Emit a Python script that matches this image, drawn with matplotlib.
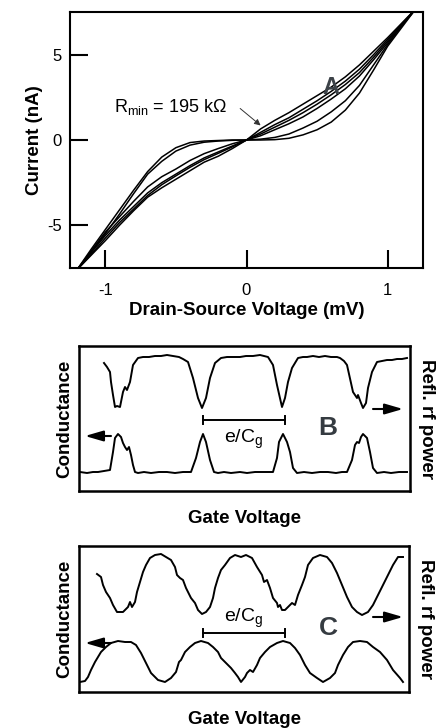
import matplotlib
matplotlib.use("Agg")
import matplotlib.pyplot as plt

plt.rcParams['font.family'] = ['Liberation Sans', 'DejaVu Sans']
plt.rcParams['mathtext.fontset'] = 'custom'
plt.rcParams['mathtext.rm'] = 'Liberation Sans'
plt.rcParams['mathtext.it'] = 'Liberation Sans'
plt.rcParams['axes.unicode_minus'] = False

# Panel A: I-V curves (mV, nA)
voltage = [-1.2, -1.1, -1.0, -0.9, -0.8, -0.7, -0.6, -0.5, -0.4, -0.3, -0.2, -0.1, 0.0,
           0.1, 0.2, 0.3, 0.4, 0.5, 0.6, 0.7, 0.8, 0.9, 1.0, 1.1, 1.2]
iv_1 = [-7.6, -6.75, -5.9, -5.0, -4.15, -3.35, -2.8, -2.3, -1.8, -1.3, -0.95, -0.5, 0.0,
        0.65, 1.15, 1.6, 2.1, 2.6, 3.1, 3.7, 4.4, 5.2, 6.0, 6.85, 7.7]
iv_2 = [-7.6, -6.7, -5.75, -4.85, -4.05, -3.25, -2.62, -2.1, -1.6, -1.15, -0.78, -0.4, 0.0,
        0.45, 0.9, 1.3, 1.8, 2.3, 2.85, 3.45, 4.15, 5.0, 5.9, 6.8, 7.7]
iv_3 = [-7.6, -6.6, -5.6, -4.7, -3.9, -3.1, -2.5, -2.0, -1.5, -1.05, -0.7, -0.35, 0.0,
        0.35, 0.75, 1.15, 1.6, 2.1, 2.65, 3.25, 3.95, 4.85, 5.8, 6.75, 7.7]
iv_4 = [-7.6, -6.5, -5.4, -4.5, -3.6, -2.75, -2.15, -1.7, -1.2, -0.8, -0.5, -0.22, 0.0,
        0.25, 0.6, 0.95, 1.35, 1.85, 2.4, 3.0, 3.75, 4.7, 5.7, 6.7, 7.7]
iv_5 = [-7.6, -6.55, -5.5, -4.35, -3.15, -2.0, -1.25, -0.65, -0.3, -0.13, -0.06, -0.02, 0.0,
        0.05, 0.15, 0.35, 0.7, 1.1, 1.65, 2.3, 3.2, 4.4, 5.6, 6.7, 7.7]
iv_6 = [-7.6, -6.4, -5.25, -4.1, -2.95, -1.85, -1.0, -0.45, -0.15, -0.06, -0.03, 0.0, 0.0,
        0.0, 0.02, 0.1, 0.3, 0.6, 1.05, 1.75, 2.75, 4.1, 5.5, 6.6, 7.7]
iv_curves = [iv_1, iv_2, iv_3, iv_4, iv_5, iv_6]

# Panel B: gate sweep, arbitrary units
b_rf_x = [25, 28, 31, 32, 34, 36, 38, 41, 44, 46, 48, 51, 54, 59, 64, 70, 76, 82, 88, 94,
          100, 104, 109, 114, 119, 123, 127, 131, 136, 142, 148, 154, 161, 167, 174, 181,
          189, 194, 198, 203, 206, 209, 213, 219, 224, 228, 234, 240, 246, 252, 258, 261,
          265, 268, 274, 278, 279, 282, 284, 287, 289, 293, 298, 303, 308, 313, 318, 323, 328]
b_rf_y = [128, 124, 119, 109, 96, 84, 85, 84, 99, 104, 101, 109, 126, 133, 134, 134, 135,
          135, 136, 135, 134, 132, 129, 113, 93, 83, 93, 113, 128, 133, 134, 134, 134, 135,
          135, 136, 134, 126, 106, 84, 93, 109, 123, 133, 134, 134, 135, 134, 135, 134, 134,
          133, 130, 126, 99, 93, 96, 88, 83, 88, 103, 119, 129, 130, 131, 131, 132, 132, 133]
b_g_x = [1, 8, 14, 19, 25, 31, 34, 36, 39, 42, 44, 46, 48, 50, 52, 54, 56, 59, 65, 72, 80,
         88, 96, 104, 112, 117, 121, 124, 127, 131, 135, 139, 145, 152, 161, 168, 176, 184,
         194, 198, 200, 204, 208, 211, 214, 218, 225, 233, 241, 249, 257, 263, 268, 273,
         276, 278, 280, 282, 284, 288, 291, 294, 298, 305, 312, 320, 328]
b_g_y = [19, 18, 19, 19, 20, 21, 39, 53, 57, 54, 48, 44, 41, 44, 36, 26, 19, 18, 19, 18, 19,
         19, 18, 19, 19, 33, 49, 57, 49, 31, 19, 18, 19, 18, 19, 18, 19, 19, 19, 33, 49, 57,
         49, 39, 23, 18, 19, 18, 19, 19, 18, 19, 19, 31, 46, 49, 48, 54, 57, 53, 39, 23, 18,
         19, 18, 19, 19]

# Panel C: gate sweep, arbitrary units
c_rf_x = [18, 22, 24, 27, 31, 34, 38, 44, 49, 51, 53, 56, 58, 61, 64, 67, 71, 76, 82, 87,
          92, 96, 98, 101, 104, 107, 112, 116, 119, 123, 127, 131, 134, 136, 139, 142, 146,
          151, 156, 162, 167, 173, 178, 183, 185, 188, 191, 194, 198, 199, 201, 203, 206,
          209, 213, 216, 219, 223, 226, 229, 234, 241, 248, 253, 258, 263, 268, 273, 278,
          283, 289, 294, 299, 304, 309, 314, 319, 324]
c_rf_y = [118, 115, 107, 100, 94, 87, 80, 80, 85, 90, 85, 90, 100, 110, 120, 127, 134, 137,
          138, 135, 132, 125, 117, 114, 112, 104, 94, 89, 82, 78, 80, 85, 94, 104, 114, 122,
          127, 134, 137, 135, 137, 134, 125, 117, 110, 112, 104, 94, 89, 85, 87, 82, 82, 85,
          89, 87, 97, 107, 115, 127, 134, 137, 135, 129, 119, 107, 95, 85, 80, 77, 80, 87,
          97, 107, 117, 127, 135, 135]
c_g_x = [1, 6, 9, 12, 16, 19, 22, 27, 32, 39, 46, 52, 57, 62, 67, 72, 79, 86, 92, 97, 100,
         102, 106, 111, 116, 122, 129, 134, 139, 142, 147, 152, 156, 159, 162, 166, 168, 171,
         174, 178, 181, 186, 191, 198, 204, 211, 216, 221, 226, 231, 238, 244, 251, 256,
         259, 264, 269, 274, 281, 288, 294, 301, 308, 314, 321, 324]
c_g_y = [10, 11, 15, 22, 30, 35, 40, 45, 49, 51, 50, 50, 47, 39, 29, 19, 12, 10, 14, 20, 30,
         32, 40, 45, 49, 51, 49, 45, 40, 34, 29, 24, 19, 15, 10, 15, 19, 22, 20, 27, 34, 40,
         45, 49, 51, 49, 44, 37, 27, 19, 14, 10, 14, 19, 27, 37, 45, 50, 51, 50, 45, 40, 32,
         22, 14, 10]

fig = plt.figure(figsize=(4.43, 7.28), dpi=100)

# ---- panel A ----
ax = fig.add_axes([70 / 443, 1 - 268 / 728, 353 / 443, 256 / 728])
for cur in iv_curves:
    ax.plot(voltage, cur, color='black', lw=1.1)
ax.set_xlim(-1.25, 1.25)
ax.set_ylim(-7.5, 7.5)
ax.set_xticks([-1, 0, 1])
ax.set_yticks([-5, 0, 5])
ax.tick_params(axis='both', direction='in', length=13, width=1.5, labelsize=12)
ax.tick_params(axis='x', pad=11)
ax.tick_params(axis='y', pad=6)
for sp in ax.spines.values():
    sp.set_linewidth(1.5)
ax.set_xlabel('Drain-Source Voltage (mV)', fontsize=13.5, fontweight='bold', labelpad=3)
ax.set_ylabel('Current (nA)', fontsize=13.5, fontweight='bold', labelpad=3)
ax.text(-0.94, 1.95, r'R$_{\mathrm{min}}$ = 195 k$\Omega$', fontsize=13, va='center', ha='left')
ax.annotate('', xy=(0.115, 0.75), xytext=(-0.06, 1.95),
            arrowprops=dict(arrowstyle='-|>', color='#333333', lw=0.7, mutation_scale=9))
ax.text(0.6, 3.1, 'A', fontsize=17, fontweight='bold', color='#3c4248', ha='center', va='center')

# ---- panel B ----
axb = fig.add_axes([79 / 443, 1 - 491 / 728, 331 / 443, 145 / 728])
axb.plot(b_rf_x, b_rf_y, color='black', lw=1.4)
axb.plot(b_g_x, b_g_y, color='black', lw=1.4)
axb.set_xlim(0, 331)
axb.set_ylim(0, 145)

# ---- panel C ----
axc = fig.add_axes([79 / 443, 1 - 692 / 728, 330 / 443, 146 / 728])
axc.plot(c_rf_x, c_rf_y, color='black', lw=1.4)
axc.plot(c_g_x, c_g_y, color='black', lw=1.4)
axc.set_xlim(0, 330)
axc.set_ylim(0, 146)

arrow = dict(arrowstyle='-|>,head_length=0.55,head_width=0.16', color='black',
             lw=1.5, mutation_scale=20, shrinkA=0, shrinkB=0)
panels = [(axb, 'B', 55, 82, 71, 52, 63),
          (axc, 'C', 49, 75, 59, 74, 64)]
for a, letter, yl, yr, ybar, ytxt, ylet in panels:
    a.set_xticks([])
    a.set_yticks([])
    for sp in a.spines.values():
        sp.set_linewidth(1.8)
    a.set_xlabel('Gate Voltage', fontsize=13.5, fontweight='bold', labelpad=14)
    a.set_ylabel('Conductance', fontsize=13.5, fontweight='bold', labelpad=4)
    a.text(1.025, 0.5, 'Refl. rf power', transform=a.transAxes, rotation=270,
           fontsize=13.5, fontweight='bold', ha='left', va='center')
    a.annotate('', xy=(6, yl), xytext=(32, yl), arrowprops=arrow)
    a.annotate('', xy=(324, yr), xytext=(294, yr), arrowprops=arrow)
    a.plot([124, 206], [ybar, ybar], color='black', lw=1.4)
    a.plot([124, 124], [ybar - 4, ybar + 4], color='black', lw=1.4)
    a.plot([206, 206], [ybar - 4, ybar + 4], color='black', lw=1.4)
    a.text(165, ytxt, r'e/C$_{\mathrm{g}}$', fontsize=14, ha='center', va='center')
    a.text(249, ylet, letter, fontsize=19, fontweight='bold', color='#353b41',
           ha='center', va='center')

fig.savefig('out.png', dpi=100)
